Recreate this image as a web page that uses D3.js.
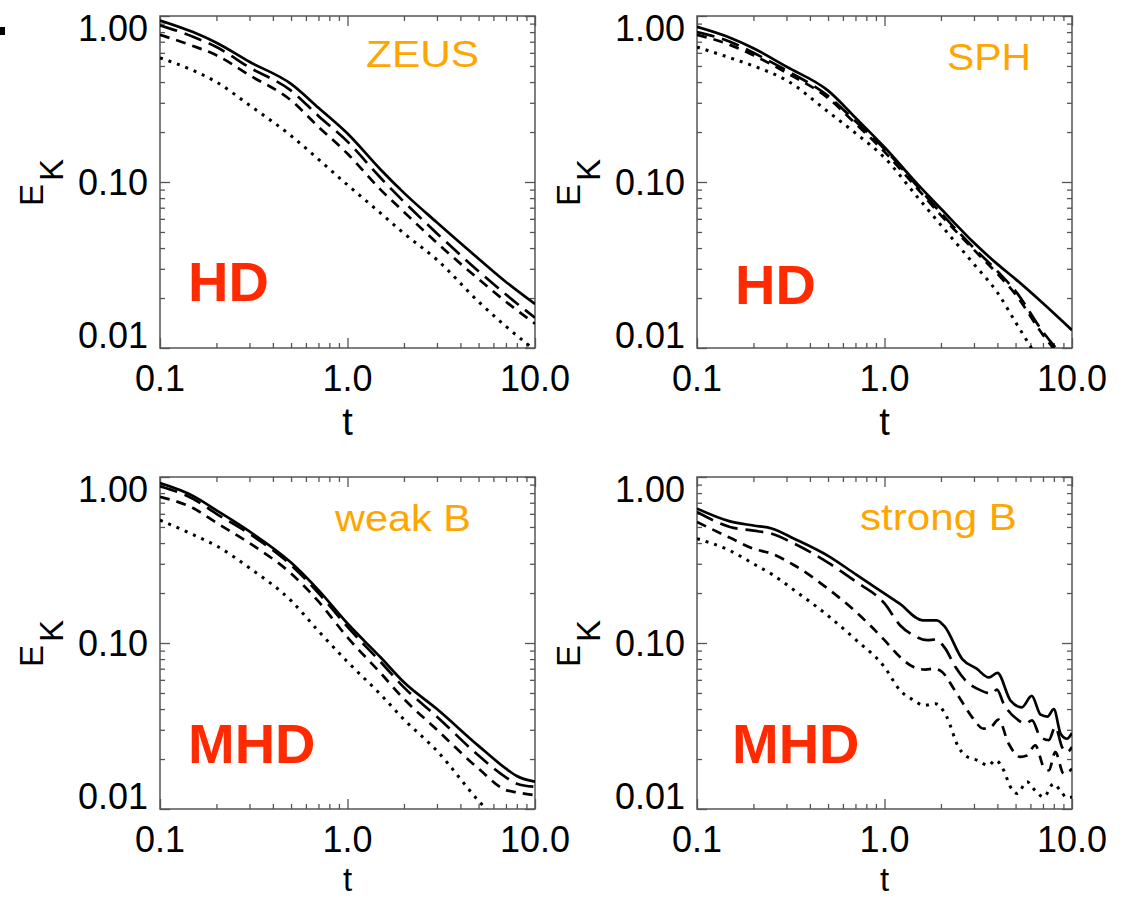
<!DOCTYPE html>
<html><head><meta charset="utf-8">
<script src="https://cdn.jsdelivr.net/npm/d3@7"></script>
<style>body{margin:0;background:#fff}svg{display:block}</style>
</head><body>
<svg id="chart" width="1124" height="898"></svg>
<script>
// ---------- data ----------
const xTickLabels = ["0.1", "1.0", "10.0"];
const yTickLabels = ["0.01", "0.10", "1.00"];
const xMajor = [0.1, 1, 10];
const yMajor = [0.01, 0.1, 1];

// ZEUS (HD)
const zeusT      = [0.1,0.15,0.2,0.3,0.5,0.7,1,1.5,2,3,5,7,10];
const zeusSolid  = [0.94,0.80,0.69,0.53,0.39,0.28,0.196,0.119,0.086,0.057,0.0345,0.025,0.0184];
const zeusLong   = [0.88,0.75,0.65,0.49,0.355,0.25,0.175,0.106,0.076,0.049,0.029,0.021,0.0152];
const zeusShort  = [0.77,0.66,0.58,0.44,0.31,0.215,0.148,0.09,0.066,0.043,0.026,0.019,0.014];
const zeusDot    = [0.56,0.47,0.40,0.29,0.19,0.137,0.096,0.065,0.049,0.034,0.019,0.0135,0.0097];

// SPH (HD)
const sphT      = [0.1,0.15,0.2,0.3,0.5,0.7,1,1.5,2,3,4,5,7,10];
const sphSolid  = [0.86,0.74,0.64,0.495,0.355,0.244,0.162,0.097,0.069,0.043,0.032,0.026,0.0186,0.0128];
const sphLong   = [0.80,0.70,0.60,0.47,0.33,0.232,0.158,0.094,0.065,0.040,0.029,0.022,0.0125,0.0078];
const sphShort  = [0.77,0.67,0.58,0.455,0.32,0.225,0.152,0.091,0.063,0.039,0.028,0.021,0.0120,0.0074];
const sphDot    = [0.65,0.56,0.50,0.41,0.265,0.197,0.14,0.081,0.055,0.032,0.0216,0.0143,0.0077,0.004];

// weak B (MHD)
const weakT      = [0.1,0.15,0.2,0.3,0.5,0.7,1,1.5,2,3,5,7,8,10];
const weakSolid  = [0.92,0.77,0.63,0.47,0.305,0.208,0.131,0.082,0.058,0.040,0.024,0.0175,0.0158,0.0146];
const weakLong   = [0.88,0.74,0.60,0.455,0.295,0.20,0.125,0.077,0.054,0.036,0.021,0.0155,0.0142,0.0136];
const weakShort  = [0.76,0.65,0.53,0.40,0.262,0.178,0.108,0.066,0.046,0.030,0.0175,0.0130,0.0126,0.0121];
const weakDot    = [0.55,0.45,0.385,0.283,0.18,0.118,0.077,0.049,0.0346,0.0224,0.0112,0.0075,0.0065,0.0045];

// strong B (MHD)
const strongSolidT = [0.1,0.15,0.2,0.25,0.33,0.5,0.7,0.9,1.2,1.6,1.9,2.1,2.6,3.1,3.6,4.0,4.7,5.4,6.1,6.8,7.4,8.0,8.7,9.4,10];
const strongSolid  = [0.645,0.54,0.51,0.49,0.425,0.335,0.26,0.215,0.173,0.137,0.137,0.125,0.080,0.070,0.062,0.066,0.045,0.041,0.048,0.037,0.036,0.040,0.0284,0.0265,0.0287];
const strongLongT  = [0.1,0.15,0.2,0.25,0.33,0.5,0.7,1.0,1.21,1.43,1.69,1.87,2.11,2.39,2.7,3.24,3.74,3.98,4.32,5.19,5.64,6.12,6.78,7.52,8.15,8.85,9.4,10];
const strongLong   = [0.615,0.50,0.475,0.455,0.397,0.305,0.235,0.173,0.128,0.111,0.104,0.105,0.0925,0.0716,0.0596,0.052,0.0495,0.0524,0.0431,0.0342,0.0327,0.0342,0.0272,0.026,0.0312,0.0236,0.022,0.0236];
const strongShortT = [0.1,0.15,0.2,0.25,0.33,0.5,0.7,1.0,1.21,1.43,1.65,1.83,2.03,2.34,2.63,2.93,3.38,3.67,4.06,4.59,5.3,5.75,6.37,7.06,7.52,8.15,9.03,10];
const strongShort  = [0.536,0.43,0.37,0.345,0.294,0.212,0.155,0.104,0.0824,0.0716,0.0692,0.070,0.0669,0.0531,0.0431,0.0358,0.0305,0.031,0.0345,0.0248,0.0206,0.021,0.0242,0.0179,0.0171,0.022,0.0163,0.0175];
const strongDotT   = [0.1,0.15,0.2,0.25,0.33,0.5,0.7,1.0,1.21,1.43,1.62,1.87,2.15,2.48,2.7,3.11,3.59,3.9,4.32,4.69,5.1,5.75,6.37,7.06,7.98,8.67,9.4,10];
const strongDot    = [0.425,0.36,0.30,0.26,0.208,0.146,0.105,0.0716,0.0519,0.0452,0.0421,0.0431,0.0358,0.0236,0.021,0.0197,0.0183,0.0197,0.0171,0.0136,0.0124,0.0146,0.0129,0.0118,0.0142,0.0129,0.0117,0.0118];

const methodLabels = ["ZEUS", "SPH", "weak B", "strong B"];
const physLabels = ["HD", "HD", "MHD", "MHD"];

// ---------- layout / style ----------
const W = 375, H = 332;
const FONT = "'Liberation Sans', Arial, Helvetica, sans-serif";
const ORANGE = "#ffa500", RED = "#ff2a00", FRAME = "#555";
const styles = {
  solid: null,
  long: "18,8",
  short: "10,7",
  dot: "3,6"
};

const panels = [
  {x0:160, y0:16,  method:0, mx:206, my:51, mlen:113, px:28, py:285, ty:87, tfs:38,
   series:[[zeusT,zeusSolid,"solid"],[zeusT,zeusLong,"long"],[zeusT,zeusShort,"short"],[zeusT,zeusDot,"dot"]]},
  {x0:697, y0:16,  method:1, mx:250, my:54, mlen:84, px:38, py:288, ty:87, tfs:38,
   series:[[sphT,sphSolid,"solid"],[sphT,sphLong,"long"],[sphT,sphShort,"short"],[sphT,sphDot,"dot"]]},
  {x0:160, y0:477, method:2, mx:175, my:54, mlen:136, px:28, py:286, ty:82, tfs:33,
   series:[[weakT,weakSolid,"solid"],[weakT,weakLong,"long"],[weakT,weakShort,"short"],[weakT,weakDot,"dot"]]},
  {x0:697, y0:477, method:3, mx:163, my:53, mlen:157, px:35, py:286, ty:82, tfs:33,
   series:[[strongSolidT,strongSolid,"solid"],[strongLongT,strongLong,"long"],[strongShortT,strongShort,"short"],[strongDotT,strongDot,"dot"]]}
];

const svg = d3.select("#chart");
svg.append("rect").attr("x",0).attr("y",27).attr("width",5).attr("height",8).attr("fill","#000");

const xMinor = [], yMinor = [];
[0.1,1].forEach(d => { for (let k=2;k<=9;k++) xMinor.push(d*k); });
[0.01,0.1].forEach(d => { for (let k=2;k<=9;k++) yMinor.push(d*k); });

panels.forEach((p, i) => {
  const g = svg.append("g").attr("transform", `translate(${p.x0},${p.y0})`);
  const x = d3.scaleLog().domain([0.1, 10]).range([0, W]);
  const y = d3.scaleLog().domain([0.01, 1]).range([H, 0]);

  const cid = "clip" + i;
  g.append("clipPath").attr("id", cid).append("rect").attr("width", W).attr("height", H);

  // ticks (inward, on all four sides)
  const tickStyle = sel => { sel.select(".domain").remove(); sel.selectAll("line").attr("stroke", FRAME).attr("stroke-width", 1.3); sel.selectAll("text").remove(); };
  g.append("g").attr("transform",`translate(0,${H})`).call(d3.axisBottom(x).tickValues(xMajor).tickSize(-10).tickFormat("")).call(tickStyle);
  g.append("g").attr("transform",`translate(0,${H})`).call(d3.axisBottom(x).tickValues(xMinor).tickSize(-5).tickFormat("")).call(tickStyle);
  g.append("g").call(d3.axisTop(x).tickValues(xMajor).tickSize(-10).tickFormat("")).call(tickStyle);
  g.append("g").call(d3.axisTop(x).tickValues(xMinor).tickSize(-5).tickFormat("")).call(tickStyle);
  g.append("g").call(d3.axisLeft(y).tickValues(yMajor).tickSize(-10).tickFormat("")).call(tickStyle);
  g.append("g").call(d3.axisLeft(y).tickValues(yMinor).tickSize(-5).tickFormat("")).call(tickStyle);
  g.append("g").attr("transform",`translate(${W},0)`).call(d3.axisRight(y).tickValues(yMajor).tickSize(-10).tickFormat("")).call(tickStyle);
  g.append("g").attr("transform",`translate(${W},0)`).call(d3.axisRight(y).tickValues(yMinor).tickSize(-5).tickFormat("")).call(tickStyle);

  // frame
  g.append("rect").attr("width", W).attr("height", H).attr("fill","none").attr("stroke", FRAME).attr("stroke-width", 1.5);

  // curves
  const line = d3.line().x(d => x(d[0])).y(d => y(d[1])).curve(d3.curveMonotoneX);
  const lg = g.append("g").attr("clip-path", `url(#${cid})`);
  p.series.forEach(([ts, es, st]) => {
    const pts = ts.map((t, j) => [t, es[j]]);
    lg.append("path").attr("d", line(pts)).attr("fill","none").attr("stroke","#000")
      .attr("stroke-width", st === "dot" ? 3 : 2.7)
      .attr("stroke-dasharray", styles[st]);
  });

  // x tick labels
  xMajor.forEach((v, j) => {
    g.append("text").attr("x", x(v)).attr("y", H + 43).attr("text-anchor","middle")
      .attr("font-family", FONT).attr("font-size", 36).text(xTickLabels[j]);
  });
  // y tick labels (kept inside the frame's vertical extent)
  yMajor.forEach((v, j) => {
    let by = y(v) + 13;
    if (j === 0) by = H;
    if (j === 2) by = 25;
    g.append("text").attr("x", -12).attr("y", by).attr("text-anchor","end")
      .attr("font-family", FONT).attr("font-size", 36).text(yTickLabels[j]);
  });

  // axis titles
  g.append("text").attr("x", W/2).attr("y", H + p.ty).attr("text-anchor","middle")
    .attr("font-family", FONT).attr("font-size", p.tfs).text("t");
  const ek = g.append("text").attr("transform", `translate(-117,${H/2 + 24}) rotate(-90)`)
    .attr("font-family", FONT).attr("font-size", 33);
  ek.append("tspan").text("E");
  ek.append("tspan").attr("dy", 20).attr("dx", 3).text("K");

  // annotations
  g.append("text").attr("x", p.mx).attr("y", p.my).attr("font-family", FONT).attr("font-size", 36)
    .attr("fill", ORANGE).attr("textLength", p.mlen).attr("lengthAdjust","spacingAndGlyphs")
    .text(methodLabels[p.method]);
  g.append("text").attr("x", p.px).attr("y", p.py).attr("font-family", FONT).attr("font-size", 56)
    .attr("font-weight","bold").attr("fill", RED).text(physLabels[i]);
});
</script>
</body></html>
